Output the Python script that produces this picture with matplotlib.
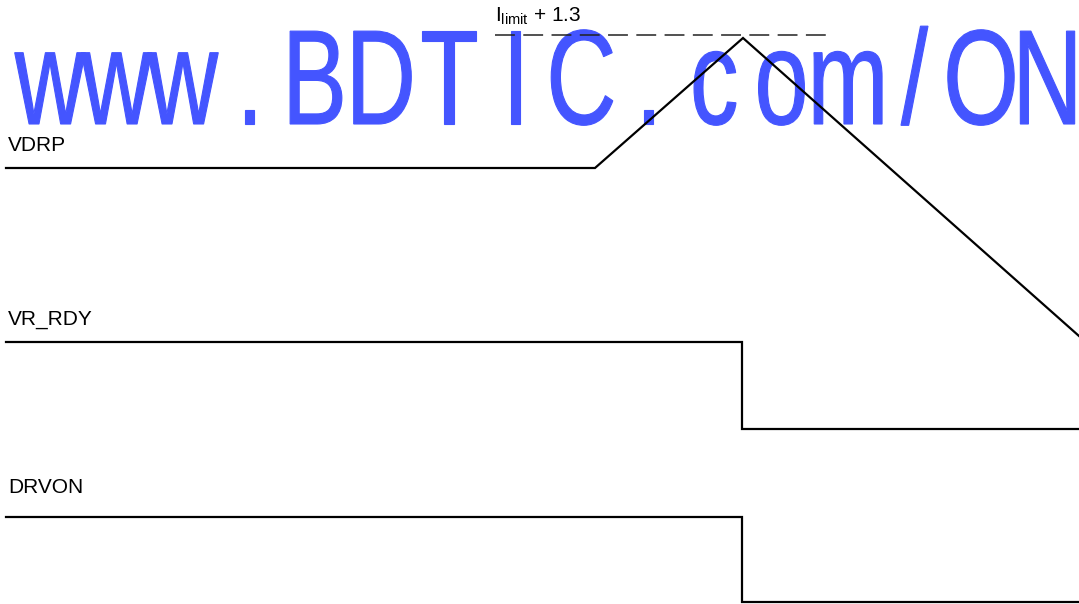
import matplotlib.pyplot as plt
from matplotlib.textpath import TextPath
from matplotlib.font_manager import FontProperties
from matplotlib.patches import PathPatch
from matplotlib.transforms import Affine2D

plt.rcParams['font.family'] = ['Liberation Sans', 'DejaVu Sans']

# signal names
signals = ["VDRP", "VR_RDY", "DRVON"]

# waveforms (time, level) in diagram units
vdrp_t = [6, 595, 743, 1079]
vdrp_v = [168, 168, 38, 336]
vrrdy_t = [6, 742, 742, 1079]
vrrdy_v = [342, 342, 429, 429]
drvon_t = [6, 742, 742, 1079]
drvon_v = [517, 517, 602, 602]

# threshold marker
limit_t = [495, 828]
limit_v = [35, 35]
limit_label = r"$\mathregular{I_{limit}}$ + 1.3"

watermark = "www.BDTIC.com/ON"

fig = plt.figure(figsize=(10.79, 6.04), dpi=100)
ax = fig.add_axes([0, 0, 1, 1])
ax.set_xlim(0, 1079)
ax.set_ylim(604, 0)
ax.axis('off')

# watermark, drawn behind the traces
fp = FontProperties(family='Liberation Sans')
blue = '#4455ff'
for i, ch in enumerate(watermark):
    tp = TextPath((0, 0), ch, size=135, prop=fp)
    ext = tp.get_extents()
    cx = (ext.x0 + ext.x1) / 2
    tr = Affine2D().translate(-cx, 0).scale(0.72, -1).translate(50 + 66.5 * i, 124)
    ax.add_patch(PathPatch(tp, transform=tr + ax.transData, fc=blue, ec=blue,
                           lw=0.8, zorder=1))

# traces
for t, v in [(vdrp_t, vdrp_v), (vrrdy_t, vrrdy_v), (drvon_t, drvon_v)]:
    ax.plot(t, v, color='black', lw=1.6, solid_joinstyle='miter', zorder=3)

ax.plot(limit_t, limit_v, color='#222222', lw=1.1, linestyle=(0, (13, 5.5)), zorder=3)
ax.text(495, 22, limit_label, fontsize=15, va='baseline', ha='left', zorder=4)

# signal labels
label_y = [151, 325, 493]
for name, y in zip(signals, label_y):
    ax.text(8, y, name, fontsize=15, va='baseline', ha='left', zorder=4)

fig.savefig('out.png', dpi=100)
